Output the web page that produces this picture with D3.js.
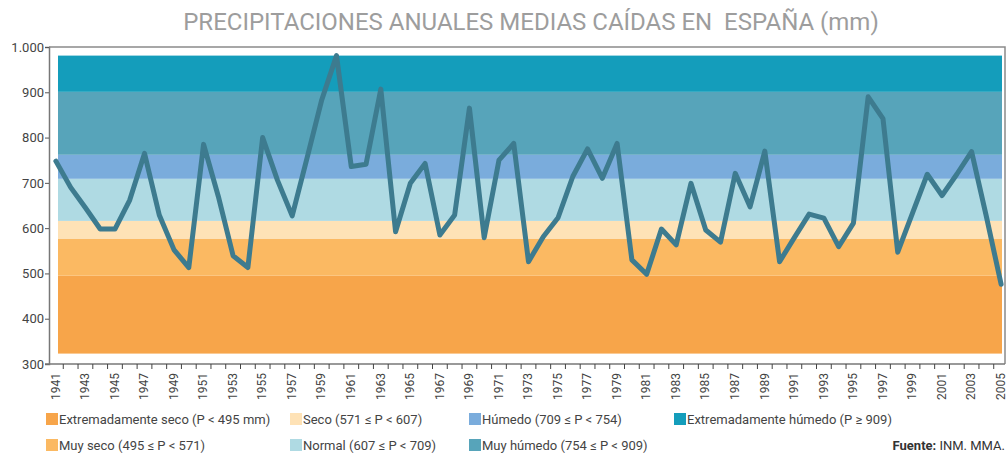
<!DOCTYPE html>
<html><head><meta charset="utf-8">
<script src="https://cdn.jsdelivr.net/npm/d3@7"></script>
<style>
body{margin:0;background:#fff;}
text{font-family:Roboto, "DejaVu Sans", sans-serif;}
</style></head>
<body>
<svg id="chart" width="1007" height="453"></svg>
<script>
const years = d3.range(1941, 2006);
const precipitation = [748,690,645,598,598,662,765,629,552,513,785,670,539,513,800,706,627,754,883,981,736,741,907,592,699,743,585,629,865,579,750,787,526,581,623,714,775,710,787,530,498,598,563,699,596,569,721,647,770,526,579,631,622,559,611,890,842,547,633,719,672,719,769,626,476];
const bandEdges = [323, 495, 577, 616, 709, 762, 901, 981];
const bandColors = ["#F7A54A","#FBB962","#FEE2B6","#AFDAE3","#7AACDC","#57A4BA","#149DBB"];
const legendLabels = ["Extremadamente seco (P < 495 mm)","Muy seco (495 ≤ P < 571)","Seco (571 ≤ P < 607)","Normal (607 ≤ P < 709)","Húmedo (709 ≤ P < 754)","Muy húmedo (754 ≤ P < 909)","Extremadamente húmedo (P ≥ 909)"];
const yTicks = [300,400,500,600,700,800,900,1000];
const titleText = "PRECIPITACIONES ANUALES MEDIAS CAÍDAS EN  ESPAÑA (mm)";

const svg = d3.select("#chart");
const mLeft = 49, mRight = 1005, mTop = 47, mBottom = 364;
const x = d3.scaleBand().domain(years).range([48.5, 1008.5]).padding(0);
const y = d3.scaleLinear().domain([300, 1000]).range([mBottom, mTop]);

// title
svg.append("text").attr("x", 531).attr("y", 30).attr("text-anchor","middle")
  .attr("font-size", 24).attr("fill","#9d9d9d").style("white-space","pre").text(titleText);

// bands
const bands = d3.range(bandColors.length).map(i => ({lo: bandEdges[i], hi: bandEdges[i+1], c: bandColors[i]}));
svg.append("g").selectAll("rect").data(bands).join("rect")
  .attr("x", mLeft + 9).attr("width", mRight - 3 - (mLeft + 9))
  .attr("y", d => y(d.hi)).attr("height", d => y(d.lo) - y(d.hi))
  .attr("fill", d => d.c);

// frame
svg.append("path").attr("d", `M${mLeft},${mTop}H${mRight}V${mBottom}`).attr("fill","none")
  .attr("stroke","#8a8a8a").attr("stroke-width",1.5);

// y axis
const yAxis = svg.append("g").attr("transform",`translate(${mLeft},0)`)
  .call(d3.axisLeft(y).tickValues(yTicks).tickSizeOuter(0).tickSize(4)
    .tickFormat(d => d === 1000 ? "1.000" : d));
yAxis.select(".domain").attr("stroke","#777").attr("stroke-width",1.5);
yAxis.selectAll(".tick line").attr("stroke","#555");
yAxis.selectAll("text").attr("font-size",13).attr("fill","#444").attr("font-family","Roboto").attr("x",-5);

// x axis
svg.append("line").attr("x1", 45).attr("x2", mRight).attr("y1", mBottom).attr("y2", mBottom)
  .attr("stroke","#777").attr("stroke-width",1.5);
svg.append("g").selectAll("line").data(years.slice(1)).join("line")
  .attr("x1", d => x(d)).attr("x2", d => x(d)).attr("y1", mBottom).attr("y2", mBottom + 5)
  .attr("stroke","#444");
svg.append("g").selectAll("text").data(years.filter(d => d % 2 === 1)).join("text")
  .attr("transform", d => `translate(${x(d) + x.bandwidth()/2 - 0.5},${mBottom + 9}) rotate(-90)`)
  .attr("text-anchor","end").attr("dy","0.35em").attr("font-size",12).attr("fill","#444")
  .text(d => d);

// line
const line = d3.line().x((d,i) => x(years[i]) + x.bandwidth()/2).y(d => y(d));
svg.append("path").datum(precipitation).attr("d", line).attr("fill","none")
  .attr("stroke","#3D7B8F").attr("stroke-width",5).attr("stroke-linejoin","round").attr("stroke-linecap","round");

// legend
const legendPos = [[46,0],[46,1],[290,0],[290,1],[469,0],[469,1],[674,0]];
const lg = svg.append("g").selectAll("g").data(legendLabels).join("g")
  .attr("transform",(d,i) => `translate(${legendPos[i][0]},${413 + legendPos[i][1]*26})`);
lg.append("rect").attr("width",12).attr("height",12).attr("fill",(d,i) => bandColors[i]);
lg.append("text").attr("x",13).attr("y",11).attr("font-size",13).attr("fill","#444").text(d => d);

const src = svg.append("text").attr("x",1005).attr("y",450).attr("text-anchor","end").attr("font-size",13).attr("fill","#333");
src.append("tspan").attr("font-weight","bold").text("Fuente:");
src.append("tspan").text(" INM. MMA.");
</script>
</body></html>
